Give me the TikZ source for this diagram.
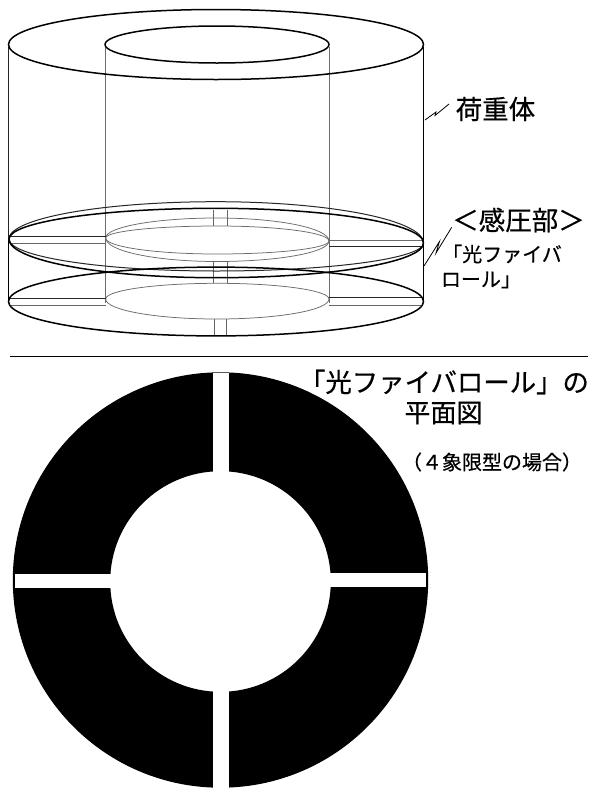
\documentclass[tikz,border=0pt]{standalone}
\usepackage{fontspec}
\setmainfont{Noto Sans CJK JP}[BoldFont={Noto Sans CJK JP},BoldFeatures={FakeBold=0.5}]
\newcommand{\lensarc}[6]{% x0,y0,x1,y1,xm,ym
  (#1,#2) .. controls (#1,{#2+0.5523*(#6-#2)}) and ({#5-0.5523*(#5-#1)},#6) .. (#5,#6)
  .. controls ({#5+0.5523*(#3-#5)},#6) and (#3,{#4+0.5523*(#6-#4)}) .. (#3,#4)}
\begin{document}
\begin{tikzpicture}[x=1pt,y=-1pt,
  bold/.style={draw=black,line width=1.5pt},
  med/.style={draw=black!85,line width=1pt},
  thin/.style={draw=black!60,line width=0.6pt},
  hid/.style={draw=black!58,line width=0.75pt},
  lbl/.style={inner sep=0pt,anchor=center,text=black,font=\bfseries},
  leader/.style={draw=black,line width=0.8pt}]
\useasboundingbox (0,0) rectangle (592,788);
\fill[white] (0,0) rectangle (592,788);
% verticals
\draw[med] (8.7,47) -- (8.7,240);
\draw[bold] (8.7,240) -- (8.7,302);
\draw[bold] (423.5,47) -- (423.5,302);
\draw[hid] (105.7,47) -- (105.7,303);
\draw[hid] (329,47) -- (329,303);
% top face
\draw[bold] (216,44.5) ellipse [x radius=207.5,y radius=35];
\draw[bold] (217,44.5) ellipse [x radius=112,y radius=18.5];
% inner ellipses of sensing part
\draw[hid] \lensarc{105.7}{238}{329}{241}{217}{218};
\draw[hid] \lensarc{105.7}{238}{329}{241}{217}{226};
\draw[hid] \lensarc{105.7}{238}{329}{241}{217}{254};
\draw[hid] \lensarc{105.7}{238}{329}{241}{217}{261.5};
\draw[hid] \lensarc{105.7}{299}{329}{299}{217}{283.3};
\draw[hid] \lensarc{105.7}{299}{329}{299}{217}{319};
% slit lines: verticals
\foreach \sx in {213.3,227.3}{
  \draw[thin] (\sx,210) -- (\sx,226);
  \draw[thin] (\sx,261.7) -- (\sx,283.3);
}
\foreach \sx in {214.3,226.7}{
  \draw[thin] (\sx,319) -- (\sx,336);
}
% slit lines: horizontals
\draw[med] (10,236.7) -- (105.7,236.7);
\draw[thin] (10,243.3) -- (105.7,243.3);
\draw[hid] (329,240) -- (422,240);
\draw[med] (329,246.7) -- (422,246.7);
\draw[med] (10,298) -- (105.7,298);
\draw[thin] (10,305) -- (105.7,305);
\draw[med] (329,297.3) -- (422,297.3);
\draw[thin] (329,305) -- (422,305);
% outer ellipses of sensing part
\draw[med] \lensarc{9}{239}{423.5}{243}{216}{201.7};
\draw[bold] \lensarc{9}{239}{423.5}{243}{216}{208.3};
\draw[med] \lensarc{9}{239}{423.5}{243}{216}{271};
\draw[bold] \lensarc{9}{239}{423.5}{243}{216}{277.7};
\draw[bold] (216,301.5) ellipse [x radius=207.5,y radius=34.4];
% rule
\coordinate (ruleL) at (10,356);
\coordinate (ruleR) at (588,356);
\draw[draw=black,line width=0.9pt] (ruleL) -- (ruleR);
% plan view ring
\fill[black,even odd rule] (220.5,580) circle [radius=207.7] (220.5,581.5) circle [radius=110.3];
\fill[white] (213.3,373.3) rectangle (229.2,472);
\fill[white] (213.3,690) rectangle (229.2,788);
\fill[white] (14.5,574.3) rectangle (111,588.3);
\fill[white] (330,573.3) rectangle (426,587.3);
% leaders
\coordinate (l1a) at (425,120);
\coordinate (l1b) at (449,104);
\draw[leader] (l1a) -- (436,112) -- (435,115.5) -- (l1b);
\coordinate (l2a) at (424,266);
\coordinate (l2b) at (451.7,227.3);
\draw[leader] (l2a) -- (439.5,241.5) -- (436,253) -- (l2b);
% texts
\node[lbl,font=\bfseries\fontsize{26.5}{26.5}\selectfont] (t1) at (495.5,109) {荷重体};
\node[lbl,font=\bfseries\fontsize{26.5}{26.5}\selectfont] (t2) at (518.5,220) {＜感圧部＞};
\node[lbl,font=\bfseries\fontsize{20}{20}\selectfont] (t3) at (502,254) {「光ファイバ};
\node[lbl,font=\bfseries\fontsize{20}{20}\selectfont] (t4) at (481,280) {ロール」};
\node[lbl,font=\bfseries\fontsize{26.4}{26.4}\selectfont] (t5) at (444,382) {「光ファイバロール」の};
\node[lbl,font=\bfseries\fontsize{26}{26}\selectfont] (t6) at (443.5,413) {平面図};
\node[lbl,font=\bfseries\fontsize{20}{20}\selectfont] (t7) at (492,462) {（４象限型の場合）};
\end{tikzpicture}
\end{document}
